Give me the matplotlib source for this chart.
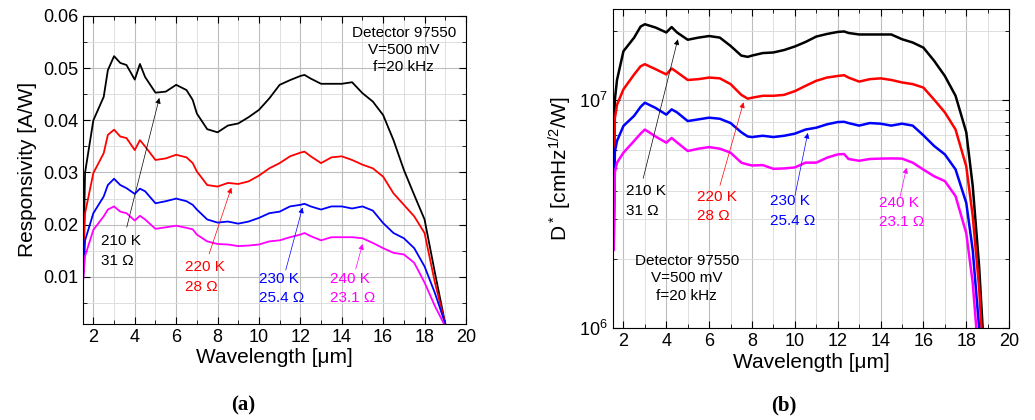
import matplotlib
matplotlib.use('Agg')
import matplotlib.pyplot as plt
from matplotlib.ticker import MultipleLocator, NullFormatter, LogLocator

plt.rcParams['font.family'] = ['Liberation Sans', 'DejaVu Sans']
plt.rcParams['mathtext.default'] = 'regular'

# ---- panel (a): responsivity ----
wl_a = [1.5, 1.6, 2.0, 2.5, 2.7, 3.0, 3.3, 3.6, 4.0, 4.25, 4.5, 5.0, 5.5, 6.0, 6.5, 6.8,
        7.0, 7.5, 8.0, 8.5, 9.0, 9.5, 10.0, 10.5, 11.0, 11.5, 12.0, 12.2, 12.5, 13.0,
        13.5, 14.0, 14.5, 15.0, 15.5, 16.0, 16.5, 17.0, 17.5, 18.0, 18.5, 19.0]
resp_210 = [0.010, 0.030, 0.040, 0.0445, 0.0496, 0.0523, 0.051, 0.0506, 0.0478, 0.0508, 0.0483,
            0.0453, 0.0455, 0.0468, 0.0458, 0.0439, 0.0413, 0.0383, 0.0377, 0.039, 0.0394,
            0.0406, 0.042, 0.0442, 0.0468, 0.0477, 0.0485, 0.0487, 0.048, 0.047, 0.047, 0.047,
            0.0473, 0.0452, 0.0436, 0.041, 0.0362, 0.0305, 0.0257, 0.021, 0.0108, 0.001]
resp_220 = [0.010, 0.0222, 0.0299, 0.0337, 0.0372, 0.0382, 0.0369, 0.0366, 0.0343, 0.0362, 0.035,
            0.0324, 0.0327, 0.0334, 0.0329, 0.0318, 0.0302, 0.0276, 0.0273, 0.028, 0.0278,
            0.0283, 0.0294, 0.0308, 0.0318, 0.0331, 0.0338, 0.034, 0.0331, 0.0318, 0.0329,
            0.0331, 0.0324, 0.0315, 0.0308, 0.0292, 0.026, 0.0238, 0.0216, 0.0184, 0.0089, 0.001]
resp_230 = [0.009, 0.017, 0.0222, 0.0254, 0.0276, 0.0288, 0.0276, 0.027, 0.0259, 0.0269, 0.0264,
            0.0241, 0.0245, 0.025, 0.0245, 0.0238, 0.0229, 0.021, 0.0204, 0.0206, 0.0202,
            0.0206, 0.0213, 0.0222, 0.0225, 0.0235, 0.0238, 0.024, 0.0235, 0.0229, 0.0235,
            0.0235, 0.0231, 0.0235, 0.0227, 0.0203, 0.0184, 0.0174, 0.0155, 0.012, 0.0069, 0.001]
resp_240 = [0.009, 0.014, 0.019, 0.0216, 0.0229, 0.0235, 0.0225, 0.0222, 0.0208, 0.0217, 0.021,
            0.0192, 0.0195, 0.0198, 0.0194, 0.0191, 0.0181, 0.0168, 0.0163, 0.0162, 0.0159,
            0.016, 0.0162, 0.0168, 0.017, 0.0176, 0.0181, 0.0184, 0.0178, 0.017, 0.0176,
            0.0176, 0.0176, 0.0174, 0.0165, 0.0155, 0.0146, 0.0143, 0.0127, 0.0089, 0.0044, 0.0005]

# ---- panel (b): detectivity ----
wl_b = [1.55, 1.6, 1.7, 2.0, 2.5, 2.8, 3.0, 3.5, 4.0, 4.25, 4.5, 5.0, 5.5, 6.0, 6.5, 7.0,
        7.5, 7.8, 8.0, 8.5, 9.0, 9.5, 10.0, 10.5, 11.0, 11.5, 12.0, 12.3, 12.5, 13.0, 13.5,
        14.0, 14.5, 15.0, 15.5, 16.0, 16.5, 17.0, 17.5, 18.0, 18.3, 18.6, 18.9]
dstar_210 = [4e6, 1.0e7, 1.22e7, 1.63e7, 1.87e7, 2.09e7, 2.14e7, 2.07e7, 1.97e7, 2.08e7, 1.97e7,
             1.83e7, 1.87e7, 1.9e7, 1.87e7, 1.72e7, 1.56e7, 1.54e7, 1.56e7, 1.6e7, 1.61e7,
             1.65e7, 1.71e7, 1.79e7, 1.89e7, 1.94e7, 1.98e7, 1.99e7, 1.96e7, 1.93e7, 1.93e7,
             1.93e7, 1.93e7, 1.84e7, 1.78e7, 1.69e7, 1.48e7, 1.27e7, 1.04e7, 7.2e6, 4.2e6,
             1.86e6, 6e5]
dstar_220 = [3e6, 8.3e6, 9.5e6, 1.11e7, 1.29e7, 1.4e7, 1.43e7, 1.36e7, 1.29e7, 1.37e7, 1.32e7,
             1.22e7, 1.23e7, 1.25e7, 1.24e7, 1.17e7, 1.05e7, 1.01e7, 1.02e7, 1.04e7, 1.04e7,
             1.05e7, 1.09e7, 1.15e7, 1.21e7, 1.25e7, 1.27e7, 1.28e7, 1.25e7, 1.2e7, 1.23e7,
             1.24e7, 1.22e7, 1.19e7, 1.17e7, 1.13e7, 1.0e7, 8.8e6, 7.4e6, 5.1e6, 3.1e6, 1.5e6, 5e5]
dstar_230 = [2.5e6, 5.9e6, 6.6e6, 7.67e6, 8.5e6, 9.3e6, 9.7e6, 9.2e6, 8.6e6, 9.07e6, 8.8e6,
             8.06e6, 8.2e6, 8.34e6, 8.25e6, 7.9e6, 7.2e6, 6.9e6, 6.86e6, 6.95e6, 6.86e6, 6.95e6,
             7.1e6, 7.4e6, 7.54e6, 7.8e6, 7.98e6, 8.0e6, 7.9e6, 7.7e6, 7.9e6, 7.85e6, 7.7e6,
             7.85e6, 7.7e6, 6.98e6, 6.27e6, 5.76e6, 4.95e6, 3.53e6, 2.2e6, 1.0e6, 4e5]
dstar_240 = [2.2e6, 4.8e6, 5.3e6, 5.86e6, 6.6e6, 7.1e6, 7.4e6, 6.9e6, 6.48e6, 6.8e6, 6.5e6,
             5.96e6, 6.1e6, 6.2e6, 6.1e6, 5.86e6, 5.3e6, 5.2e6, 5.15e6, 5.17e6, 4.98e6, 5.0e6,
             5.05e6, 5.3e6, 5.3e6, 5.57e6, 5.76e6, 5.78e6, 5.5e6, 5.4e6, 5.5e6, 5.52e6, 5.53e6,
             5.52e6, 5.3e6, 4.94e6, 4.62e6, 4.4e6, 3.78e6, 2.6e6, 1.58e6, 7e5, 3e5]

colors = ['black', 'red', 'blue', 'magenta']
labels = ['210 K\n31 \u03a9', '220 K\n28 \u03a9', '230 K\n25.4 \u03a9', '240 K\n23.1 \u03a9']
info = 'Detector 97550\nV=500 mV\nf=20 kHz'

fig = plt.figure(figsize=(10.35, 4.2), dpi=100)
ax1 = fig.add_axes([0.0802, 0.229, 0.370, 0.733])
ax2 = fig.add_axes([0.592, 0.219, 0.383, 0.760])


def style(ax):
    ax.tick_params(which='both', direction='in', top=True, right=True, labelsize=13)
    ax.tick_params(which='major', length=5)
    ax.tick_params(which='minor', length=3)
    ax.grid(which='major', color='#bdbdbd', lw=0.8)
    ax.grid(which='minor', color='#dedede', lw=0.7)
    ax.set_axisbelow(True)
    ax.set_xlim(1.5, 20)
    ax.xaxis.set_major_locator(MultipleLocator(2))
    ax.xaxis.set_minor_locator(MultipleLocator(1))
    ax.set_xlabel('Wavelength [\u03bcm]', fontsize=15, labelpad=2)


for y, c in zip([resp_210, resp_220, resp_230, resp_240], colors):
    ax1.plot(wl_a, y, color=c, lw=1.3)
style(ax1)
ax1.set_ylim(0.001, 0.06)
ax1.yaxis.set_major_locator(MultipleLocator(0.01))
ax1.yaxis.set_minor_locator(MultipleLocator(0.005))
ax1.set_yticks([0.01, 0.02, 0.03, 0.04, 0.05, 0.06])
ax1.set_ylabel('Responsivity [A/W]', fontsize=15, labelpad=4)

# label positions, arrow tails and heads for panel (a)
lab_a = [(2.35, 0.0150), (6.45, 0.0100), (10.0, 0.0078), (13.45, 0.0078)]
tail_a = [(3.58, 0.0190), (7.55, 0.0139), (11.26, 0.0108), (14.64, 0.0110)]
head_a = [(5.22, 0.0448), (8.71, 0.0276), (12.14, 0.0238), (15.04, 0.0168)]
for t, p, tl, hd, c in zip(labels, lab_a, tail_a, head_a, colors):
    ax1.text(p[0], p[1], t, color=c, fontsize=11, ha='left', va='center', linespacing=1.5)
    ax1.annotate('', xy=hd, xytext=tl,
                 arrowprops=dict(arrowstyle='-|>', color=c, lw=0.5, mutation_scale=8))
ax1.text(17.0, 0.0535, info, fontsize=11, ha='center', va='center', linespacing=1.3)

for y, c in zip([dstar_210, dstar_220, dstar_230, dstar_240], colors):
    ax2.plot(wl_b, y, color=c, lw=1.8)
style(ax2)
ax2.set_yscale('log')
ax2.set_ylim(1e6, 2.5e7)
ax2.yaxis.set_major_locator(LogLocator(base=10, numticks=5))
ax2.yaxis.set_minor_locator(LogLocator(base=10, subs=range(2, 10), numticks=20))
ax2.yaxis.set_minor_formatter(NullFormatter())
ax2.set_ylabel('D$^*$ [cmHz$^{1/2}$/W]', fontsize=15, labelpad=4)

lab_b = [(2.1, 3.6e6), (5.43, 3.4e6), (8.85, 3.25e6), (13.95, 3.2e6)]
tail_b = [(2.89, 4.4e6), (6.47, 4.1e6), (9.98, 3.7e6), (14.88, 3.66e6)]
head_b = [(4.57, 1.89e7), (7.64, 1.0e7), (10.63, 7.35e6), (15.24, 5.17e6)]
for t, p, tl, hd, c in zip(labels, lab_b, tail_b, head_b, colors):
    ax2.text(p[0], p[1], t, color=c, fontsize=11, ha='left', va='center', linespacing=1.5)
    ax2.annotate('', xy=hd, xytext=tl,
                 arrowprops=dict(arrowstyle='-|>', color=c, lw=0.5, mutation_scale=8))
ax2.text(4.96, 1.65e6, info, fontsize=11, ha='center', va='center', linespacing=1.3)

fig.text(0.235, 0.035, '(a)', fontsize=15, fontweight='bold', family='Liberation Serif',
         ha='center', va='center')
fig.text(0.757, 0.035, '(b)', fontsize=15, fontweight='bold', family='Liberation Serif',
         ha='center', va='center')

fig.savefig('out.png', dpi=100)
